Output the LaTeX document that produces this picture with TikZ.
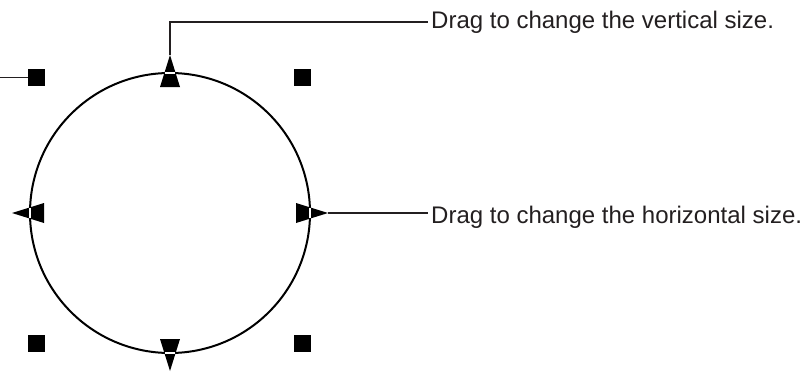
\documentclass[tikz,border=0pt]{standalone}
\usepackage{fontspec}
\setmainfont{Liberation Sans}
\usepackage{tikz}
\usetikzlibrary{positioning}
\definecolor{inkGrau}{HTML}{231F20}

\begin{document}
\begin{tikzpicture}[
  x=1pt, y=-1pt,
  every node/.style={inner sep=0pt},
  corner/.style={fill=black, draw=none, rectangle,
                 minimum width=17pt, minimum height=17pt},
  rim/.style={draw=black, line width=2pt},
  gap/.style={draw=white, line width=1.8pt},
  leader/.style={draw=inkGrau, line width=1.6pt},
  caption/.style={font=\fontsize{24}{28}\selectfont, text=inkGrau,
                  inner xsep=3pt, anchor=base west},
]
\useasboundingbox (0,0) rectangle (812,372);

% --- The outline being resized ---------------------------------------
\coordinate (ctr) at (170,213);
\draw[rim] (ctr) circle[radius=140];

% --- Corner handles ---------------------------------------------------
\node[corner] (nw) at (36.5,77.5) {};
\node[corner] (ne) at (302,77.5)  {};
\node[corner] (sw) at (36.5,343)  {};
\node[corner] (se) at (302,343)   {};

% --- Side handles: a wedge across the rim, cut where the rim runs -----
% (rotation acts on the page, so 90 is up although y runs down)
\foreach \ang/\side in {0/right, 90/top, 180/left, 270/bottom} {
  \begin{scope}[shift={(ctr)}, rotate=\ang]
    \fill[black] (126,-10) -- (158,0) -- (126,10) -- cycle;
    \draw[gap] (140,-5.4) -- (140,5.4);
    \coordinate (tip\side) at (158,0);
  \end{scope}
}

% --- Leaders and captions ----------------------------------------------
\coordinate (edge) at (0,77.5);
\draw[leader] (edge) -- (nw.west);

\node[caption] (vcap) at (428,28)  {Drag to change the vertical size.};
\node[caption] (hcap) at (428,223) {Drag to change the horizontal size.};

\draw[leader] (tiptop) |- (vcap.west);
\draw[leader] (tipright) -- (tipright -| hcap.west);
\end{tikzpicture}
\end{document}
